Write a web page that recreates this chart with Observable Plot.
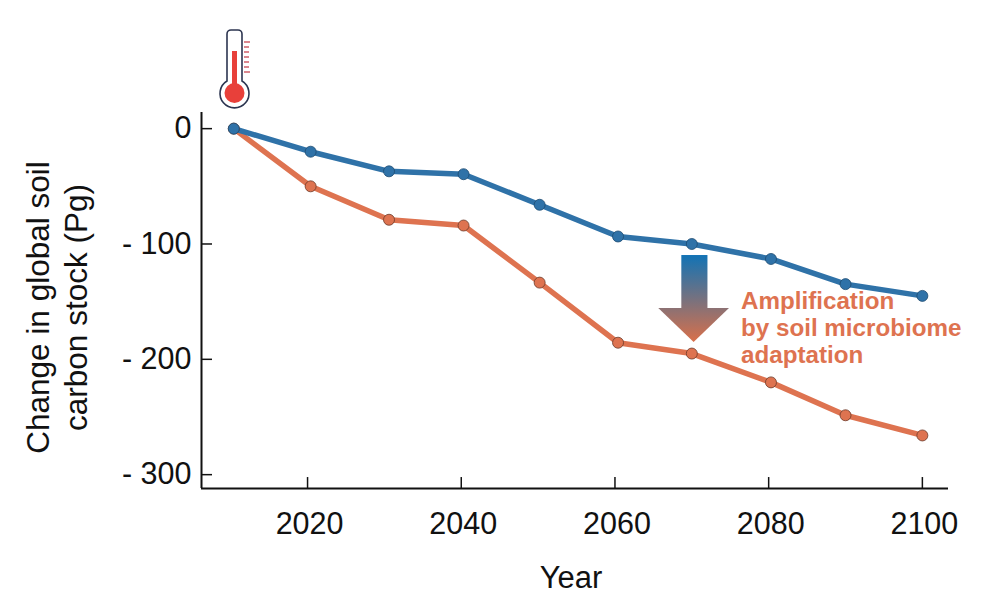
<!DOCTYPE html>
<html><head><meta charset="utf-8">
<script src="https://cdn.jsdelivr.net/npm/d3@7"></script>
<script src="https://cdn.jsdelivr.net/npm/@observablehq/plot@0.6"></script>
<style>html,body{margin:0;padding:0;background:#fff}</style>
</head><body><div id="chart"></div>
<script>
const years = [2010.4,2020.4,2030.6,2040.3,2050.2,2060.4,2070,2080.3,2090,2100];
const baseline = [0,-20,-37,-39.5,-66,-93.5,-100,-113,-134.8,-145];
const adapted = [0,-50,-79,-84,-133.5,-185.6,-195,-220,-248.5,-266];
const xTicks = [2020,2040,2060,2080,2100];
const yTicks = [0,-100,-200,-300];
const blue = "#2f72a8", orange = "#de7350", ink = "#111";
const fontFamily = "'Liberation Sans', Helvetica, Arial, sans-serif";
const rows = (ys) => years.map((x,i)=>({x,y:ys[i]}));
const yMin = -312, tickTop = -302.5;

// annotation arrow, in data units
const arrowShaft = {x1:2068.7,x2:2072.1,y1:-110,y2:-156};
const arrowHead = [{x:2065.7,y1:-156,y2:-156},{x:2070.3,y1:-156,y2:-185.5},{x:2074.9,y1:-156,y2:-156}];
const note = "Amplification\nby soil microbiome\nadaptation";
const ns = "http://www.w3.org/2000/svg";

function gradientDefs(){
  const s = document.createElementNS(ns,"defs");
  s.innerHTML = `<linearGradient id="arrowGrad" gradientUnits="userSpaceOnUse" x1="0" x2="0" y1="255" y2="342">
    <stop offset="0" stop-color="#1273b5"/><stop offset="1" stop-color="#d9704a"/></linearGradient>`;
  return s;
}
function thermometer(){
  const g = document.createElementNS(ns,"g");
  g.innerHTML = `
  <path d="M227 81V34a4 4 0 0 1 4-4h7a4 4 0 0 1 4 4V81A14.500 14.500 0 1 1 227 81Z" fill="#fff" stroke="#2c3550" stroke-width="1.6"/>
  <rect x="232" y="51" width="5" height="36" fill="#e8403a"/>
  <circle cx="234.500" cy="93" r="10" fill="#e8403a"/>
  <path d="M244 42h6M244 47h5M244 52h5M244 57h5M244 62h5M244 67h5M244 72h6" stroke="#d0606a" stroke-width="1.4"/>`;
  return g;
}

const plot = Plot.plot({
  width:1000, height:616,
  marginLeft:201, marginRight:52, marginTop:112, marginBottom:128,
  style:{fontFamily, background:"#fff", color:ink, overflow:"visible"},
  x:{domain:[2006.2,2103.4]},
  y:{domain:[yMin,14]},
  marks:[
    gradientDefs,
    thermometer,
    Plot.axisX({ticks:xTicks, tickFormat:d=>String(d), tickSize:0, tickPadding:24, dx:2, fontSize:30.5, label:null}),
    Plot.ruleX(xTicks,{y1:()=>yMin,y2:()=>tickTop,stroke:ink,strokeWidth:1.5}),
    Plot.axisY({ticks:yTicks, tickFormat:d=>d===0?"0":"- "+Math.abs(d), tickSize:-11, tickPadding:21, fontSize:30.5, label:null, stroke:ink, strokeWidth:1.5}),
    Plot.ruleX([2006.2],{stroke:ink,strokeWidth:2}),
    Plot.ruleY([yMin],{stroke:ink,strokeWidth:2}),
    Plot.line(rows(adapted),{x:"x",y:"y",stroke:orange,strokeWidth:5.5}),
    Plot.line(rows(baseline),{x:"x",y:"y",stroke:blue,strokeWidth:5.5}),
    Plot.dot(rows(adapted),{x:"x",y:"y",r:5.5,fill:orange,stroke:"#6b3a2a",strokeWidth:0.8}),
    Plot.dot(rows(baseline),{x:"x",y:"y",r:5.5,fill:blue,stroke:"#1d4a70",strokeWidth:0.8}),
    Plot.rect([arrowShaft],{x1:"x1",x2:"x2",y1:"y1",y2:"y2",fill:"url(#arrowGrad)"}),
    Plot.areaY(arrowHead,{x:"x",y1:"y1",y2:"y2",fill:"url(#arrowGrad)"}),
    Plot.text([note],{x:2076.4,y:-172,text:d=>d,textAnchor:"start",lineAnchor:"middle",lineHeight:1.115,fontSize:24.2,fontWeight:"bold",fill:orange}),
    Plot.text(["Year"],{frameAnchor:"bottom",textAnchor:"middle",dx:-4,dy:99,fontSize:31,fill:ink}),
    Plot.text(["Change in global soil\ncarbon stock (Pg)"],{frameAnchor:"left",textAnchor:"middle",lineAnchor:"middle",rotate:-90,dx:-146,dy:7,lineHeight:1.22,fontSize:31.5,fill:ink})
  ]
});
document.getElementById("chart").append(plot);
</script></body></html>
